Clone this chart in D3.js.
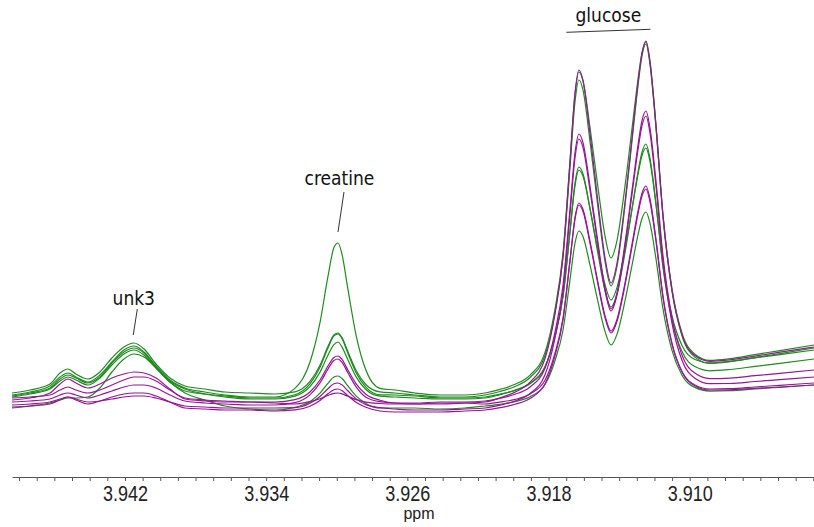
<!DOCTYPE html>
<html>
<head>
<meta charset="utf-8">
<script src="https://cdn.jsdelivr.net/npm/d3@7"></script>
<style>
  body { margin: 0; background: #fff; }
  svg { display: block; }
  .note { font-family: "DejaVu Sans Condensed", "DejaVu Sans", sans-serif; font-size: 19px; fill: #111; }
  .axis text { font-family: "Liberation Sans", Arial, sans-serif; font-size: 18px; fill: #222; }
</style>
</head>
<body>
<svg id="chart" width="814" height="527"></svg>
<script>
// chemical shift grid (ppm), shared by every spectrum
const ppm = [
  3.94840, 3.94738, 3.94625, 3.94568, 3.94523, 3.94478, 3.94410, 3.94342, 3.94274, 3.94206,
  3.94149, 3.94092, 3.94024, 3.93945, 3.93860, 3.93747, 3.93633, 3.93492, 3.93350, 3.93237,
  3.93152, 3.93095, 3.93050, 3.93016, 3.92993, 3.92971, 3.92937, 3.92891, 3.92835, 3.92755,
  3.92670, 3.92557, 3.92415, 3.92274, 3.92160, 3.92075, 3.91990, 3.91905, 3.91820, 3.91764,
  3.91718, 3.91679, 3.91650, 3.91628, 3.91605, 3.91565, 3.91520, 3.91480, 3.91446, 3.91412,
  3.91367, 3.91327, 3.91293, 3.91271, 3.91248, 3.91226, 3.91191, 3.91152, 3.91101, 3.91044,
  3.90971, 3.90886, 3.90772, 3.90631, 3.90489, 3.90296
];

// intensities (arbitrary units)
const green1 = [
  35, 38, 44, 53, 57, 53, 48, 55, 68, 80, 84, 78, 64, 50, 42,
  38, 35, 33, 33, 41.6, 67.7, 107.4, 153.3, 182.4, 187, 176.3, 141.1, 95.2, 60, 41.7, 40, 37, 35, 35,
  37, 40.6, 45.7, 54.9, 77.6, 120.5, 177.1, 267.4, 335.8, 358, 349, 302.4, 242.6, 193.9, 172, 189.7,
  243.6, 301.6, 351, 376.8, 388, 368.8, 303.9, 216, 141.7, 97, 75.8, 69.6, 71.3, 75.4, 79.4, 85
];
const green2 = [
  37, 40, 46, 57, 61, 56, 51, 58, 72, 83, 87, 81, 66, 52, 44,
  41, 38, 37, 36, 38.1, 48.6, 64.8, 83.4, 95.1, 97, 92.7, 78.4, 59.8, 45.5, 38.1, 37, 35, 33, 33,
  35, 38.5, 43.5, 52.5, 74.8, 116.9, 172.5, 261.1, 328.3, 350, 340.1, 288.4, 222.2, 168.4, 144, 163.8,
  224.2, 289.2, 344.6, 373.5, 386, 366.7, 301.6, 213.6, 139, 94.3, 72.9, 66.6, 68.3, 72.4, 76.4, 82
];
const green3 = [
  33, 36, 41, 49, 53, 50, 45, 52, 65, 76, 80, 75, 62, 48, 39,
  36, 34, 32, 32, 35.2, 46.1, 62.7, 81.9, 94.1, 96, 91.5, 76.8, 57.6, 42.9, 35.2, 35, 34, 32, 32,
  33, 35.8, 39.6, 46.3, 62.8, 93.5, 133.9, 198.3, 247.2, 263, 256.3, 221.2, 176.2, 139.5, 123, 136.4,
  177.1, 220.8, 258.1, 277.5, 286, 272.3, 226, 163.3, 110.2, 78.4, 63.4, 59.2, 60.5, 63.6, 66.7, 71
];
const green4 = [
  34, 37, 42, 51, 55, 52, 47, 53, 67, 78, 82, 77, 63, 49, 41,
  36, 33, 31, 31, 33.8, 43.3, 57.9, 74.7, 85.3, 88, 83.1, 70.2, 53.4, 40.5, 33.8, 33, 32, 31, 31,
  32, 35.4, 39.7, 46.9, 63.5, 93.9, 133.6, 196.6, 244.4, 260, 253.9, 221.3, 179.3, 145.3, 130, 142.6,
  180.6, 221.2, 255.9, 274.1, 282, 269.1, 224.8, 165, 114.5, 84.4, 70.5, 67.1, 68.7, 72.1, 75.4, 80
];
const green5 = [
  22, 24, 27, 30, 32, 32, 33, 42, 58, 71, 76, 73, 62, 48, 37,
  30, 24, 21, 20, 22.7, 28.3, 36.8, 46.7, 53, 54, 51.7, 44.1, 34.2, 26.6, 22, 22, 22, 21, 22,
  24, 25.7, 28.4, 33.2, 45.5, 69, 100, 149.4, 187, 199, 193.5, 164.9, 128.3, 98.6, 85, 95.9,
  129.1, 164.8, 195.3, 211.3, 218, 207.3, 170.8, 121.6, 79.8, 54.7, 42.6, 38.9, 39.3, 41, 42.7, 45
];
const magenta1 = [
  32, 33, 35, 40, 43, 40, 37, 40, 45, 50, 53, 53, 49, 40, 32,
  30, 29, 28, 28, 30.3, 38, 50, 64, 72.6, 74, 70.8, 60, 46.4, 35.8, 29.8, 27, 26, 26, 27,
  28, 32.2, 37.9, 47.8, 71.5, 115.9, 174.1, 266.8, 337.2, 360, 349.8, 296.4, 227.8, 172.2, 147, 167,
  227.3, 292.2, 347.5, 376.5, 389, 369.7, 304.1, 215.4, 140.3, 95.4, 74.4, 68.7, 70.1, 73.9, 77.8, 83
];
const magenta2 = [
  28, 29, 31, 35, 37, 35, 32, 35, 39, 43, 45, 45, 42, 35, 29,
  27, 26, 25, 25, 27.3, 35.1, 47.1, 60.9, 69.6, 71, 67.8, 57.2, 43.4, 32.8, 28.3, 27, 27, 28, 28,
  29, 31.7, 35.7, 43, 61.7, 97.5, 144.7, 220.2, 277.5, 296, 287.4, 243.6, 187.3, 141.8, 121, 137.1,
  186.6, 239.8, 285.2, 309, 319, 302.9, 248.5, 174.9, 112.5, 74.9, 56.9, 51.4, 51.9, 54.3, 56.7, 60
];
const magenta3 = [
  25, 26, 28, 31, 33, 31, 28, 29, 31, 33, 34, 34, 32, 28, 24,
  23, 22, 22, 22, 22.3, 26.7, 33.5, 41.3, 46.2, 47, 45.2, 39.2, 31.4, 25.4, 22.3, 21, 20, 20, 21,
  22, 24.8, 29, 36.5, 55.3, 91.5, 138.9, 214.9, 272.4, 291, 282.6, 239.5, 184.3, 139.4, 119, 134.9,
  183.6, 235.9, 280.6, 303.9, 314, 297.9, 243.4, 169.7, 107.2, 69.7, 51.8, 46.4, 46.5, 48.5, 50.4, 53
];
const magenta4 = [
  23, 24, 26, 30, 33, 30, 26, 29, 33, 36, 37, 37, 34, 28, 22,
  21, 20, 20, 19, 20.1, 23.8, 29.6, 36.2, 40.3, 41, 39.5, 34.4, 27.8, 22.7, 19, 18, 18, 18, 19,
  20, 22.3, 25.7, 31.5, 46.2, 73.9, 110.3, 168.6, 212.7, 227, 220.8, 188.7, 147.5, 114.2, 99, 110.9,
  147, 186, 219.2, 236.6, 244, 231.8, 190.4, 134.4, 86.9, 58.5, 45, 41, 41.3, 43, 44.7, 47
];
const magenta5 = [
  30, 32, 37, 46, 51, 47, 42, 46, 52, 56, 58, 57, 52, 41, 31,
  29, 28, 28, 27, 26, 28.4, 31.3, 34.6, 36.7, 37, 36.2, 33.7, 30.4, 27.9, 26.5, 26, 26, 27, 27,
  26, 27.9, 30.6, 36, 49.8, 76.5, 111.8, 168.4, 211.2, 225, 218.8, 186.7, 145.6, 112.2, 97, 108.7,
  144.7, 183.4, 216.4, 233.7, 241, 228.9, 188.1, 133, 86.2, 58, 44.3, 40, 40.2, 41.6, 43, 45
];

const tickLabels = [3.942, 3.934, 3.926, 3.918, 3.910];

// peak annotations: label position (ppm, pixel baseline) and leader line ends (ppm, pixel)
const notes = [
  { text: 'unk3', ppm: 3.94150, y: 305, line: [[3.94130, 309], [3.94153, 335]] },
  { text: 'creatine', ppm: 3.92985, y: 185, line: [[3.92959, 192], [3.92993, 232]] },
  { text: 'glucose', ppm: 3.91461, y: 22, line: [[3.91699, 32.3], [3.91223, 29.3]] },
];

const GREEN = '#1f8a1f';
const MAGENTA = '#961696';

// drawing order: interleave the two groups
const series = [
  { values: green5, color: GREEN },
  { values: magenta4, color: MAGENTA },
  { values: magenta5, color: MAGENTA },
  { values: green3, color: GREEN },
  { values: green4, color: GREEN },
  { values: magenta3, color: MAGENTA },
  { values: magenta2, color: MAGENTA },
  { values: green2, color: GREEN },
  { values: green1, color: GREEN },
  { values: magenta1, color: MAGENTA },
];

const svg = d3.select('#chart');
const width = 814;
const axisY = 477;

const x = d3.scaleLinear().domain([3.9484, 3.90296]).range([12, 814]);
const y = d3.scaleLinear().domain([0, 430]).range([430, 0]);

svg.append('rect').attr('width', width).attr('height', 527).attr('fill', '#fff');

const line = d3
  .line()
  .x((d) => x(d[0]))
  .y((d) => y(d[1]))
  .curve(d3.curveMonotoneX);

const plot = svg.append('g');
series.forEach((s) => {
  if (s.values.length !== ppm.length) console.error('length mismatch', s.values.length);
  plot
    .append('path')
    .datum(ppm.map((p, i) => [p, s.values[i]]))
    .attr('fill', 'none')
    .attr('stroke', s.color)
    .attr('stroke-width', 1.2)
    .attr('stroke-linejoin', 'round')
    .attr('d', line);
});

// x axis with a tick every 0.001 ppm
const tickVals = d3.range(3903, 3949).map((v) => v / 1000);
const labelSet = new Set(tickLabels.map((v) => v.toFixed(3)));
const axis = d3
  .axisBottom(x)
  .tickValues(tickVals)
  .tickSize(4)
  .tickSizeOuter(0)
  .tickFormat((d) => (labelSet.has(d.toFixed(3)) ? d.toFixed(3) : ''));

const axisG = svg.append('g').attr('class', 'axis').attr('transform', `translate(0,${axisY})`).call(axis);
axisG.select('.domain').attr('stroke', '#555').attr('stroke-width', 1);
axisG.selectAll('.tick line').attr('stroke', '#555');
axisG
  .selectAll('.tick text')
  .attr('y', 0)
  .attr('dy', 0)
  .attr('transform', 'translate(0,24) scale(1,1.2)');

svg
  .append('text')
  .attr('x', 419)
  .attr('y', 519)
  .attr('text-anchor', 'middle')
  .style('font-family', '"Liberation Sans", Arial, sans-serif')
  .style('font-size', '16px')
  .style('fill', '#222')
  .text('ppm');

// annotations
const noteG = svg.append('g');
notes.forEach((n) => {
  noteG
    .append('text')
    .attr('class', 'note')
    .attr('x', x(n.ppm))
    .attr('y', n.y)
    .attr('text-anchor', 'middle')
    .text(n.text);
  noteG
    .append('line')
    .attr('x1', x(n.line[0][0]))
    .attr('y1', n.line[0][1])
    .attr('x2', x(n.line[1][0]))
    .attr('y2', n.line[1][1])
    .attr('stroke', '#333')
    .attr('stroke-width', 1);
});
</script>
</body>
</html>
